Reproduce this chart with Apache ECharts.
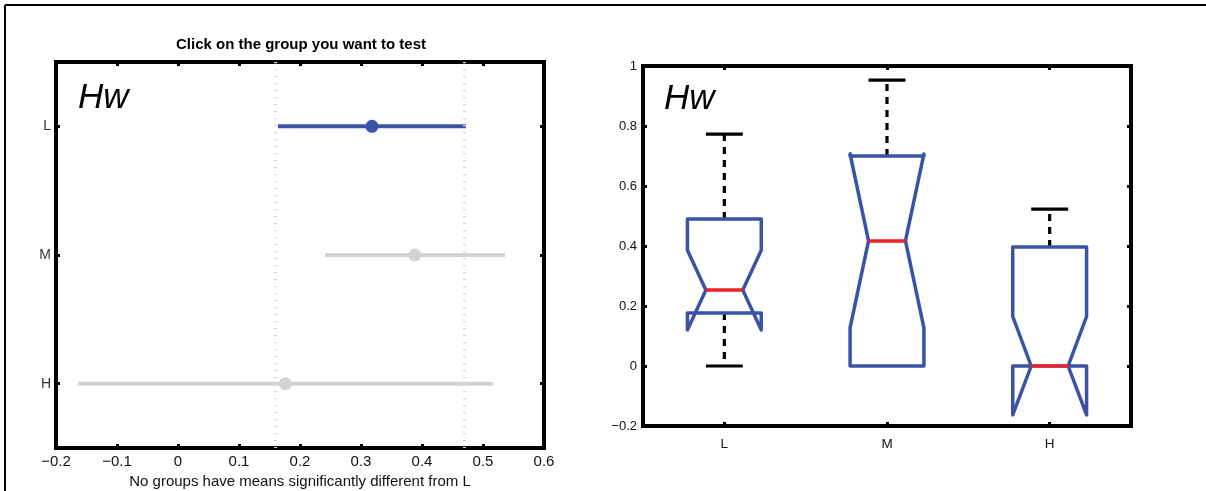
<!DOCTYPE html>
<html>
<head>
<meta charset="utf-8">
<script src="https://cdn.jsdelivr.net/npm/echarts@6/dist/echarts.min.js"></script>
<style>
html,body{margin:0;padding:0;background:#fff;}
#chart{width:1206px;height:491px;}
</style>
</head>
<body>
<div id="chart"></div>
<script>
// ---------- data ----------
const groups = ['L', 'M', 'H'];
// left panel: multiple comparison intervals
const ciLow  = [0.164, 0.241, -0.164];
const ciHigh = [0.472, 0.536, 0.516];
const means  = [0.318, 0.388, 0.176];
// right panel: notched box plots
const whiskerLow  = [0.0, 0.0, 0.0];
const q1          = [0.177, 0.0, 0.0];
const medians     = [0.253, 0.417, 0.0];
const q3          = [0.49, 0.70, 0.397];
const whiskerHigh = [0.773, 0.953, 0.523];
const notchLow    = [0.12, 0.127, -0.163];
const notchHigh   = [0.386, 0.707, 0.165];

const titleText = 'Click on the group you want to test';
const xLabelText = 'No groups have means significantly different from L';
const panelLabel = 'Hw';

// ---------- styles ----------
const BLUE = '#3a53a4';
const GRAY = '#d3d3d3';
const RED = '#ee2229';
const FONT = '"Liberation Sans", Arial, sans-serif';
const fmt = v => String(parseFloat(Number(v).toFixed(2))).replace('-', '\u2212');

const axLine = {show: true, onZero: false, lineStyle: {color: '#000', width: 4, cap: 'square'}};
const axTick = {show: true, inside: true, length: 4, lineStyle: {color: '#000', width: 3}};
const axLabel = {color: '#111', fontSize: 12, fontFamily: FONT};

const chart = echarts.init(document.getElementById('chart'), null, {renderer: 'canvas'});

const ciData = groups.map((g, i) => [ciLow[i], ciHigh[i], means[i], i]);
const boxData = groups.map((g, i) => [i, whiskerLow[i], q1[i], medians[i], q3[i], whiskerHigh[i], notchLow[i], notchHigh[i]]);

const option = {
  animation: false,
  backgroundColor: '#fff',
  grid: [
    {left: 56, top: 62, width: 488, height: 386, containLabel: false, outerBoundsMode: 'none'},
    {left: 643, top: 66, width: 488, height: 360, containLabel: false, outerBoundsMode: 'none'}
  ],
  xAxis: [
    {gridIndex: 0, type: 'value', min: -0.2, max: 0.6, interval: 0.1, position: 'bottom',
     axisLine: axLine, axisTick: axTick, splitLine: {show: false},
     axisLabel: Object.assign({}, axLabel, {fontSize: 15, margin: 6, formatter: fmt}),
     name: xLabelText, nameLocation: 'middle', nameGap: 22,
     nameTextStyle: {color: '#111', fontSize: 15, fontFamily: FONT}},
    {gridIndex: 0, type: 'value', min: -0.2, max: 0.6, interval: 0.1, position: 'top',
     axisLine: axLine, axisTick: axTick, splitLine: {show: false}, axisLabel: {show: false}},
    {gridIndex: 1, type: 'category', data: groups, position: 'bottom',
     axisLine: axLine, axisTick: Object.assign({alignWithLabel: true}, axTick), splitLine: {show: false},
     axisLabel: Object.assign({}, axLabel, {fontSize: 13.5, margin: 11})},
    {gridIndex: 1, type: 'category', data: groups, position: 'top',
     axisLine: axLine, axisTick: Object.assign({alignWithLabel: true}, axTick), splitLine: {show: false},
     axisLabel: {show: false}}
  ],
  yAxis: [
    {gridIndex: 0, type: 'category', data: groups, inverse: true, position: 'left',
     axisLine: axLine, axisTick: Object.assign({alignWithLabel: true}, axTick), splitLine: {show: false},
     axisLabel: Object.assign({}, axLabel, {fontSize: 14, margin: 5, color: '#333'})},
    {gridIndex: 0, type: 'category', data: groups, inverse: true, position: 'right',
     axisLine: axLine, axisTick: Object.assign({alignWithLabel: true}, axTick), splitLine: {show: false},
     axisLabel: {show: false}},
    {gridIndex: 1, type: 'value', min: -0.2, max: 1, interval: 0.2, position: 'left',
     axisLine: axLine, axisTick: axTick, splitLine: {show: false},
     axisLabel: Object.assign({}, axLabel, {fontSize: 13, margin: 6, formatter: fmt})},
    {gridIndex: 1, type: 'value', min: -0.2, max: 1, interval: 0.2, position: 'right',
     axisLine: axLine, axisTick: axTick, splitLine: {show: false}, axisLabel: {show: false}}
  ],
  graphic: [
    {type: 'line', shape: {x1: 5, y1: 5, x2: 1206, y2: 5}, style: {stroke: '#000', lineWidth: 2}, z: 10},
    {type: 'line', shape: {x1: 5, y1: 5, x2: 5, y2: 491}, style: {stroke: '#000', lineWidth: 2}, z: 10},
    {type: 'text', x: 301, y: 45, style: {text: titleText, fill: '#000', font: 'bold 15px ' + FONT, textAlign: 'center', textVerticalAlign: 'middle'}, z: 10},
    {type: 'text', x: 78, y: 98, style: {text: panelLabel, fill: '#000', font: 'italic 35px ' + FONT, textAlign: 'left', textVerticalAlign: 'middle'}, z: 10},
    {type: 'text', x: 664, y: 99, style: {text: panelLabel, fill: '#000', font: 'italic 35px ' + FONT, textAlign: 'left', textVerticalAlign: 'middle'}, z: 10}
  ],
  series: [
    {
      type: 'scatter', xAxisIndex: 0, yAxisIndex: 0, z: 1,
      data: [[means[0], groups[0]]], symbolSize: 0, silent: true,
      markLine: {
        silent: true, symbol: 'none', label: {show: false}, animation: false,
        lineStyle: {color: '#d6d6d6', width: 3, type: [1.2, 5.8]},
        data: [{xAxis: ciLow[0]}, {xAxis: ciHigh[0]}]
      }
    },
    {
      type: 'custom', xAxisIndex: 0, yAxisIndex: 0, z: 3,
      data: ciData,
      encode: {x: [0, 1, 2], y: 3},
      renderItem: function (params, api) {
        const idx = api.value(3);
        const a = api.coord([api.value(0), idx]);
        const b = api.coord([api.value(1), idx]);
        const m = api.coord([api.value(2), idx]);
        const col = idx === 0 ? BLUE : GRAY;
        return {type: 'group', children: [
          {type: 'line', shape: {x1: a[0], y1: a[1], x2: b[0], y2: b[1]}, style: {stroke: col, lineWidth: 4}},
          {type: 'circle', shape: {cx: m[0], cy: m[1], r: 6.5}, style: {fill: col}}
        ]};
      }
    },
    {
      type: 'custom', xAxisIndex: 2, yAxisIndex: 2, z: 3,
      data: boxData,
      encode: {x: 0, y: [1, 2, 3, 4, 5, 6, 7]},
      renderItem: function (params, api) {
        const i = api.value(0);
        const cx = api.coord([i, 0])[0];
        const band = api.size([1, 0])[0];
        const hw = band * 0.227, nw = hw / 2;
        const y = v => api.coord([i, v])[1];
        const wLo = api.value(1), bq1 = api.value(2), med = api.value(3), bq3 = api.value(4),
              wHi = api.value(5), nLo = api.value(6), nHi = api.value(7);
        const ch = [];
        const dash = {stroke: '#000', lineWidth: 3.2, lineDash: [7, 6]};
        const solid = {stroke: '#000', lineWidth: 3.2};
        if (wHi > bq3) {
          ch.push({type: 'line', shape: {x1: cx, y1: y(bq3), x2: cx, y2: y(wHi)}, style: dash});
          ch.push({type: 'line', shape: {x1: cx - nw, y1: y(wHi), x2: cx + nw, y2: y(wHi)}, style: solid});
        }
        if (wLo < bq1) {
          ch.push({type: 'line', shape: {x1: cx, y1: y(bq1), x2: cx, y2: y(wLo)}, style: dash});
          ch.push({type: 'line', shape: {x1: cx - nw, y1: y(wLo), x2: cx + nw, y2: y(wLo)}, style: solid});
        }
        const L = cx - hw, R = cx + hw, iL = cx - nw, iR = cx + nw;
        const pts = [
          [L, y(bq1)], [L, y(nLo)], [iL, y(med)], [L, y(nHi)], [L, y(bq3)],
          [R, y(bq3)], [R, y(nHi)], [iR, y(med)], [R, y(nLo)], [R, y(bq1)], [L, y(bq1)]
        ];
        ch.push({type: 'polyline', shape: {points: pts}, style: {stroke: BLUE, lineWidth: 3.5, fill: null, lineJoin: 'round', lineCap: 'round'}});
        ch.push({type: 'line', shape: {x1: iL, y1: y(med), x2: iR, y2: y(med)}, style: {stroke: RED, lineWidth: 3.5}});
        return {type: 'group', children: ch};
      }
    }
  ]
};
chart.setOption(option);
</script>
</body>
</html>
